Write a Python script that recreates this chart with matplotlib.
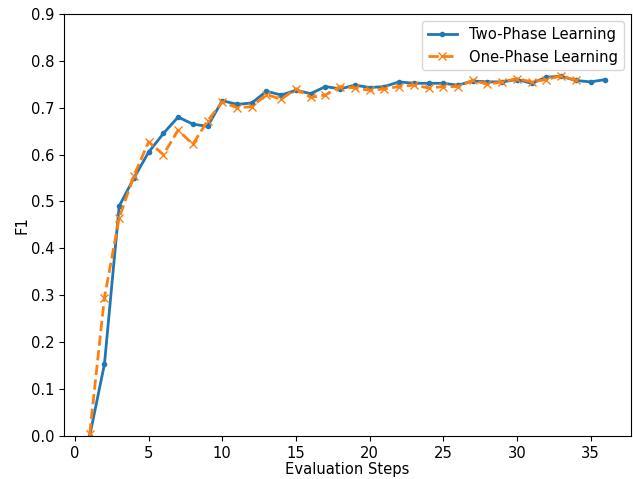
import numpy as np
import matplotlib.pyplot as plt

steps_two = list(range(1, 37))
f1_two = [0.0, 0.153, 0.49, 0.55, 0.605, 0.645, 0.68, 0.665, 0.66, 0.715,
          0.707, 0.71, 0.735, 0.727, 0.737, 0.73, 0.745, 0.74, 0.748, 0.743,
          0.745, 0.755, 0.752, 0.752, 0.752, 0.748, 0.757, 0.755, 0.755, 0.76,
          0.752, 0.765, 0.767, 0.758, 0.755, 0.76]

steps_one = list(range(1, 35))
f1_one = [0.005, 0.295, 0.465, 0.555, 0.627, 0.6, 0.652, 0.622, 0.672, 0.712,
          0.7, 0.702, 0.728, 0.718, 0.74, 0.722, 0.727, 0.745, 0.742, 0.737,
          0.74, 0.745, 0.748, 0.742, 0.745, 0.745, 0.758, 0.75, 0.755, 0.762,
          0.755, 0.76, 0.768, 0.758]

plt.rcParams['font.size'] = 10.6

fig, ax = plt.subplots(figsize=(6.33, 4.79), dpi=100)
ax.plot(steps_two, f1_two, marker='.', linewidth=2, label='Two-Phase Learning')
ax.plot(steps_one, f1_one, marker='x', linestyle='--', linewidth=2, label='One-Phase Learning')

ax.set_ylim(0, 0.9)
ax.set_xlabel('Evaluation Steps', labelpad=1)
ax.set_ylabel('F1', labelpad=1)
ax.legend(loc='upper right')

plt.subplots_adjust(left=0.101, right=0.997, top=0.971, bottom=0.09)
plt.savefig('out.png')
